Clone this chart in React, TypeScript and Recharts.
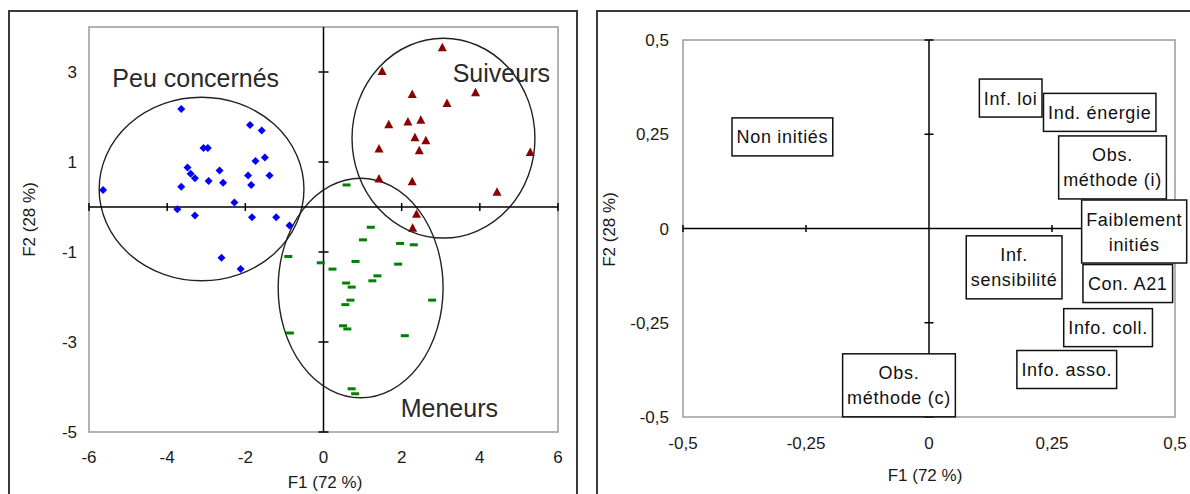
import React from "react";
import {
  ScatterChart,
  Scatter,
  XAxis,
  YAxis,
  ReferenceArea,
  ReferenceLine,
  ReferenceDot,
} from "recharts";

const FONT = "'Liberation Sans', Arial, sans-serif";
const INK = "#1a1a1a";

// ---- left panel : individuals ----
const leftXTicks = [-6, -4, -2, 0, 2, 4, 6];
const leftYTicks = [-5, -3, -1, 1, 3];
const leftHMarks = [-6, -4, -2, 2, 4, 6];
const leftVMarks = [-5, -3, -1, 1, 3];

const peuConcernes = [
  { x: -3.64, y: 2.18 }, { x: -1.88, y: 1.82 }, { x: -1.58, y: 1.7 },
  { x: -3.07, y: 1.31 }, { x: -2.96, y: 1.31 }, { x: -1.5, y: 1.1 },
  { x: -1.74, y: 1.02 }, { x: -3.48, y: 0.88 }, { x: -2.66, y: 0.81 },
  { x: -3.4, y: 0.74 }, { x: -3.29, y: 0.64 }, { x: -1.93, y: 0.7 },
  { x: -1.38, y: 0.7 }, { x: -3.64, y: 0.45 }, { x: -2.94, y: 0.58 },
  { x: -2.57, y: 0.54 }, { x: -1.85, y: 0.49 }, { x: -5.64, y: 0.38 },
  { x: -2.28, y: 0.1 }, { x: -3.74, y: -0.05 }, { x: -3.29, y: -0.19 },
  { x: -1.83, y: -0.23 }, { x: -1.21, y: -0.23 }, { x: -0.87, y: -0.41 },
  { x: -2.61, y: -1.13 }, { x: -2.12, y: -1.38 },
];

const suiveurs = [
  { x: 3.04, y: 3.54 }, { x: 1.5, y: 3.01 }, { x: 3.89, y: 2.54 },
  { x: 2.27, y: 2.5 }, { x: 3.16, y: 2.3 }, { x: 2.49, y: 1.93 },
  { x: 2.16, y: 1.89 }, { x: 1.67, y: 1.83 }, { x: 2.34, y: 1.54 },
  { x: 2.62, y: 1.47 }, { x: 1.42, y: 1.29 }, { x: 2.45, y: 1.25 },
  { x: 5.29, y: 1.21 }, { x: 1.42, y: 0.62 }, { x: 2.27, y: 0.56 },
  { x: 4.44, y: 0.33 }, { x: 2.38, y: -0.16 }, { x: 2.28, y: -0.47 },
];

const meneurs = [
  { x: 0.59, y: 0.49 }, { x: 1.21, y: -0.45 }, { x: 1.01, y: -0.73 },
  { x: 1.96, y: -0.81 }, { x: 2.31, y: -0.84 }, { x: -0.9, y: -1.1 },
  { x: -0.07, y: -1.24 }, { x: 0.82, y: -1.21 }, { x: 0.23, y: -1.38 },
  { x: 1.91, y: -1.27 }, { x: 1.38, y: -1.53 }, { x: 1.25, y: -1.64 },
  { x: 0.58, y: -1.69 }, { x: 0.72, y: -1.78 }, { x: 0.69, y: -2.07 },
  { x: 0.56, y: -2.17 }, { x: 2.78, y: -2.07 }, { x: 0.5, y: -2.64 },
  { x: 0.61, y: -2.71 }, { x: 2.08, y: -2.86 }, { x: -0.86, y: -2.8 },
  { x: 0.72, y: -4.04 }, { x: 0.81, y: -4.15 },
];

const groupEllipses = [
  { name: "Peu concernés", cx: -3.12, cy: 0.4, rx: 2.62, ry: 2.04 },
  { name: "Suiveurs", cx: 3.07, cy: 1.53, rx: 2.34, ry: 2.22 },
  { name: "Meneurs", cx: 0.95, cy: -1.8, rx: 2.11, ry: 2.44 },
];

const groupLabels = [
  { name: "Peu concernés", x: -3.27, y: 2.87 },
  { name: "Suiveurs", x: 4.55, y: 2.98 },
  { name: "Meneurs", x: 3.22, y: -4.47 },
];

// ---- right panel : modalities ----
const rightTicks = [-0.5, -0.25, 0, 0.25, 0.5];
const rightMarks = [-0.5, -0.25, 0.25, 0.5];

const modalities = [
  { label: "Non initiés", x: -0.298, y: 0.243 },
  { label: "Inf. loi", x: 0.166, y: 0.346 },
  { label: "Ind. énergie", x: 0.347, y: 0.308 },
  { label: "Obs.\nméthode (i)", x: 0.373, y: 0.162 },
  { label: "Faiblement\ninitiés", x: 0.417, y: -0.008 },
  { label: "Inf.\nsensibilité", x: 0.173, y: -0.103 },
  { label: "Con. A21", x: 0.404, y: -0.146 },
  { label: "Info. coll.", x: 0.364, y: -0.263 },
  { label: "Info. asso.", x: 0.28, y: -0.374 },
  { label: "Obs.\nméthode (c)", x: -0.061, y: -0.416 },
];

const commaFmt = (v: number) => String(v).replace(".", ",");

const ctx =
  typeof document !== "undefined"
    ? document.createElement("canvas").getContext("2d")
    : null;
const textWidth = (s: string) => {
  if (!ctx) return s.length * 9;
  ctx.font = `18px ${FONT}`;
  return ctx.measureText(s).width + s.length * 0.7;
};

const Diamond = ({ cx, cy }: any) => (
  <polygon
    points={`${cx},${cy - 4} ${cx + 4},${cy} ${cx},${cy + 4} ${cx - 4},${cy}`}
    fill="#0000ff"
  />
);
const Triangle = ({ cx, cy }: any) => (
  <polygon
    points={`${cx},${cy - 5} ${cx + 4.5},${cy + 3.5} ${cx - 4.5},${cy + 3.5}`}
    fill="#8b0000"
  />
);
const Dash = ({ cx, cy }: any) => (
  <rect x={cx - 4} y={cy - 1.5} width={8} height={3} fill="#008000" />
);

const hMark = (len: number) => ({ cx, cy }: any) => (
  <line x1={cx} x2={cx} y1={cy - len} y2={cy + len} stroke="#000" strokeWidth={1.5} />
);
const vMark = (len: number) => ({ cx, cy }: any) => (
  <line x1={cx - len} x2={cx + len} y1={cy} y2={cy} stroke="#000" strokeWidth={1.5} />
);

const EllipseShape = ({ x, y, width, height }: any) => (
  <ellipse
    cx={x + width / 2}
    cy={y + height / 2}
    rx={width / 2}
    ry={height / 2}
    fill="none"
    stroke="#222"
    strokeWidth={1.4}
  />
);

const GroupLabel = (text: string) => ({ cx, cy }: any) => (
  <text
    x={cx}
    y={cy + 9}
    textAnchor="middle"
    fontSize={25}
    fontFamily={FONT}
    fill="#2a2a2a"
  >
    {text}
  </text>
);

const ModalityBox = (props: any) => {
  const { cx, cy, payload } = props;
  const lines: string[] = payload.label.split("\n");
  const w = Math.max(...lines.map(textWidth)) + 9;
  const h = 13 + 25 * lines.length;
  return (
    <g>
      <rect
        x={cx - w / 2}
        y={cy - h / 2}
        width={w}
        height={h}
        fill="#fff"
        stroke="#111"
        strokeWidth={1.5}
      />
      {lines.map((l, i) => (
        <text
          key={i}
          x={cx}
          y={cy + (i - (lines.length - 1) / 2) * 25 + 6.5}
          textAnchor="middle"
          fontSize={18}
          letterSpacing={0.7}
          fontFamily={FONT}
          fill="#111"
        >
          {l}
        </text>
      ))}
    </g>
  );
};

const tickStyle = { fontSize: 17, fill: INK, fontFamily: FONT };

const axisTitle = (text: string, x: number, y: number, rotate = false) => () => (
  <text
    x={x}
    y={y}
    textAnchor="middle"
    dominantBaseline="central"
    fontSize={17}
    fontFamily={FONT}
    fill={INK}
    transform={rotate ? `rotate(-90 ${x} ${y})` : undefined}
  >
    {text}
  </text>
);

const frame = (left: number, width: number): React.CSSProperties => ({
  position: "absolute",
  left,
  top: 10,
  width,
  height: 520,
  border: "2px solid #3a3a3a",
  boxSizing: "border-box",
});

export default function App() {
  return (
    <div
      style={{
        position: "fixed",
        left: 0,
        top: 0,
        width: 1190,
        height: 494,
        overflow: "hidden",
        background: "#fff",
      }}
    >
      <div style={frame(8, 570)} />
      <div style={frame(596, 610)} />

      <div style={{ position: "absolute", left: 0, top: 0 }}>
        <ScatterChart
          width={590}
          height={494}
          margin={{ top: 27, right: 32, bottom: 0, left: 0 }}
        >
          <XAxis
            type="number"
            dataKey="x"
            domain={[-6, 6]}
            ticks={leftXTicks}
            axisLine={false}
            tickLine={false}
            tickSize={8}
            tickMargin={11}
            tick={tickStyle}
            height={62}
            label={{ content: axisTitle("F1 (72 %)", 325, 482) }}
          />
          <YAxis
            type="number"
            dataKey="y"
            domain={[-5, 4]}
            ticks={leftYTicks}
            axisLine={false}
            tickLine={false}
            tickSize={6}
            tickMargin={6}
            tick={tickStyle}
            width={89}
            label={{ content: axisTitle("F2 (28 %)", 29, 219.5, true) }}
          />
          <ReferenceArea
            x1={-6}
            x2={6}
            y1={-5}
            y2={4}
            fill="none"
            stroke="#9a9a9a"
            strokeWidth={1.5}
            fillOpacity={0}
            ifOverflow="visible"
          />
          <ReferenceLine x={0} stroke="#000" strokeWidth={1.5} />
          <ReferenceLine y={0} stroke="#000" strokeWidth={1.5} />
          {leftHMarks.map((v) => (
            <ReferenceDot key={"h" + v} x={v} y={0} r={4} ifOverflow="visible" shape={hMark(4)} />
          ))}
          {leftVMarks.map((v) => (
            <ReferenceDot key={"v" + v} x={0} y={v} r={4} ifOverflow="visible" shape={vMark(5)} />
          ))}
          {groupEllipses.map((e) => (
            <ReferenceArea
              key={e.name}
              x1={e.cx - e.rx}
              x2={e.cx + e.rx}
              y1={e.cy - e.ry}
              y2={e.cy + e.ry}
              ifOverflow="visible"
              shape={EllipseShape}
            />
          ))}
          {groupLabels.map((g) => (
            <ReferenceDot
              key={g.name}
              x={g.x}
              y={g.y}
              r={1}
              ifOverflow="visible"
              shape={GroupLabel(g.name)}
            />
          ))}
          <Scatter name="Peu concernés" data={peuConcernes} shape={Diamond} isAnimationActive={false} />
          <Scatter name="Suiveurs" data={suiveurs} shape={Triangle} isAnimationActive={false} />
          <Scatter name="Meneurs" data={meneurs} shape={Dash} isAnimationActive={false} />
        </ScatterChart>
      </div>

      <div style={{ position: "absolute", left: 590, top: 0 }}>
        <ScatterChart
          width={600}
          height={494}
          margin={{ top: 40, right: 15, bottom: 0, left: 0 }}
        >
          <XAxis
            type="number"
            dataKey="x"
            domain={[-0.5, 0.5]}
            ticks={rightTicks}
            tickFormatter={commaFmt}
            axisLine={false}
            tickLine={false}
            tickSize={8}
            tickMargin={12}
            tick={tickStyle}
            height={77}
            label={{ content: axisTitle("F1 (72 %)", 335, 475.5) }}
          />
          <YAxis
            type="number"
            dataKey="y"
            domain={[-0.5, 0.5]}
            ticks={rightTicks}
            tickFormatter={commaFmt}
            axisLine={false}
            tickLine={false}
            tickSize={6}
            tickMargin={8}
            tick={tickStyle}
            width={93}
            label={{ content: axisTitle("F2 (28 %)", 19, 229.5, true) }}
          />
          <ReferenceArea
            x1={-0.5}
            x2={0.5}
            y1={-0.5}
            y2={0.5}
            fill="none"
            stroke="#9a9a9a"
            strokeWidth={1.5}
            fillOpacity={0}
            ifOverflow="visible"
          />
          <ReferenceLine x={0} stroke="#000" strokeWidth={1.5} />
          <ReferenceLine y={0} stroke="#000" strokeWidth={1.5} />
          {rightMarks.map((v) => (
            <ReferenceDot key={"h" + v} x={v} y={0} r={4} ifOverflow="visible" shape={hMark(3.5)} />
          ))}
          {rightMarks.map((v) => (
            <ReferenceDot key={"v" + v} x={0} y={v} r={4} ifOverflow="visible" shape={vMark(4.5)} />
          ))}
          <Scatter data={modalities} shape={ModalityBox} isAnimationActive={false} />
        </ScatterChart>
      </div>
    </div>
  );
}
